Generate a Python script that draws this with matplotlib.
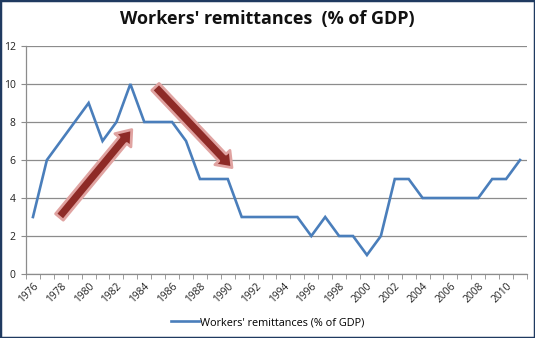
import matplotlib.pyplot as plt
from matplotlib.patches import Rectangle
import numpy as np

years = list(range(1976, 2012))
remittances = [3, 6, 7, 8, 9, 7, 8, 10, 8, 8, 8, 7, 5, 5, 5, 3, 3, 3, 3, 3,
               2, 3, 2, 2, 1, 2, 5, 5, 4, 4, 4, 4, 4, 5, 5, 6]
series_name = "Workers' remittances  (% of GDP)"
legend_name = "Workers' remittances (% of GDP)"

# trend arrows (year, value) start -> tip
rise_arrow = ((1977.9, 3.0), (1983.1, 7.6))
fall_arrow = ((1984.8, 9.85), (1990.3, 5.6))

plt.rcParams['font.family'] = ['Open Sans', 'DejaVu Sans']

fig = plt.figure(figsize=(5.35, 3.38), dpi=100)
ax = fig.add_axes([0.0486, 0.1893, 0.9364, 0.6746])

x = np.arange(len(years))
line_color = '#4a7ebb'
ax.plot(x, remittances, color=line_color, lw=1.9, solid_joinstyle='miter',
        label=legend_name, zorder=3)

# gridlines and axes
ax.set_ylim(0, 12)
ax.set_yticks(range(0, 13, 2))
ax.set_xlim(-0.5, len(years) - 0.5)
ax.grid(axis='y', color='#8c8c8c', lw=0.9)
ax.set_axisbelow(True)
for side in ('top', 'right'):
    ax.spines[side].set_visible(False)
for side in ('left', 'bottom'):
    ax.spines[side].set_color('#8c8c8c')
    ax.spines[side].set_linewidth(0.9)

ax.set_xticks(np.arange(-0.5, len(years)), minor=True)
ax.set_xticks(x[::2])
ax.set_xticklabels([str(y) for y in years[::2]], rotation=45, ha='right',
                   rotation_mode='anchor', fontsize=7.4, color='#222222')
ax.tick_params(axis='x', which='major', length=0, pad=5)
ax.tick_params(axis='x', which='minor', length=3.5, color='#8c8c8c')
ax.tick_params(axis='y', length=3.5, color='#8c8c8c', labelsize=7.5,
               labelcolor='#222222', pad=4)

# arrows
def to_idx(p):
    return (p[0] - years[0], p[1])

for start, tip in (rise_arrow, fall_arrow):
    ax.annotate('', xy=to_idx(tip), xytext=to_idx(start),
                arrowprops=dict(arrowstyle='simple,head_width=1.5,head_length=1.0,tail_width=0.72',
                                mutation_scale=10, fc='#8e2b27', ec='#e0a3a1',
                                lw=2.0, shrinkA=0, shrinkB=0),
                zorder=4)

fig.text(0.5, 0.945, series_name, ha='center', va='center',
         fontsize=13, fontweight='bold', color='#111111')

fig.legend(loc='lower center', bbox_to_anchor=(0.5, 0.0), frameon=False,
           fontsize=7.8, handlelength=2.6, handletextpad=0.1)

fig.patches.append(Rectangle((0, 0), 1, 1, transform=fig.transFigure,
                             fill=False, ec='#1f3a60', lw=2.5))

fig.savefig('out.png', dpi=100)
